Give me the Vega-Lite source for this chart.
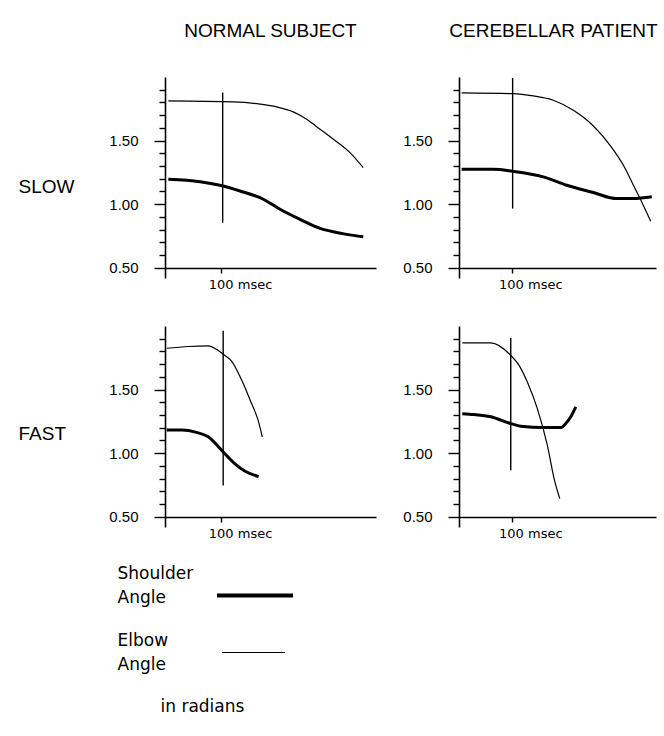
{
  "$schema": "https://vega.github.io/schema/vega-lite/v6.json",
  "padding": {"left": 18, "top": 22, "right": 0, "bottom": 5},
  "background": "white",
  "config": {
    "font": "Liberation Sans",
    "view": {"stroke": null},
    "axis": {"domainColor": "black", "tickColor": "black", "labelColor": "black", "titleColor": "black", "grid": false, "domainWidth": 1.6, "tickWidth": 1.4, "labelFont": "Liberation Sans", "titleFont": "Liberation Sans", "titleFontWeight": "normal"},
    "axisY": {"tickCount": 30, "tickSize": 6},
    "title": {"font": "Liberation Sans", "fontWeight": "normal", "fontSize": 19, "color": "black"}
  },
  "datasets": {
    "angles": [
      {"speed": "SLOW", "subject": "NORMAL", "angle": "Elbow", "t": 5.9, "v": 1.813},
      {"speed": "SLOW", "subject": "NORMAL", "angle": "Elbow", "t": 121.4, "v": 1.805},
      {"speed": "SLOW", "subject": "NORMAL", "angle": "Elbow", "t": 168.8, "v": 1.787},
      {"speed": "SLOW", "subject": "NORMAL", "angle": "Elbow", "t": 198.5, "v": 1.765},
      {"speed": "SLOW", "subject": "NORMAL", "angle": "Elbow", "t": 228, "v": 1.726},
      {"speed": "SLOW", "subject": "NORMAL", "angle": "Elbow", "t": 251.8, "v": 1.668},
      {"speed": "SLOW", "subject": "NORMAL", "angle": "Elbow", "t": 275.5, "v": 1.59},
      {"speed": "SLOW", "subject": "NORMAL", "angle": "Elbow", "t": 299.2, "v": 1.511},
      {"speed": "SLOW", "subject": "NORMAL", "angle": "Elbow", "t": 328.8, "v": 1.406},
      {"speed": "SLOW", "subject": "NORMAL", "angle": "Elbow", "t": 352.4, "v": 1.287},
      {"speed": "SLOW", "subject": "NORMAL", "angle": "Shoulder", "t": 5.9, "v": 1.196},
      {"speed": "SLOW", "subject": "NORMAL", "angle": "Shoulder", "t": 62.2, "v": 1.177},
      {"speed": "SLOW", "subject": "NORMAL", "angle": "Shoulder", "t": 97.7, "v": 1.149},
      {"speed": "SLOW", "subject": "NORMAL", "angle": "Shoulder", "t": 133.3, "v": 1.104},
      {"speed": "SLOW", "subject": "NORMAL", "angle": "Shoulder", "t": 174.7, "v": 1.039},
      {"speed": "SLOW", "subject": "NORMAL", "angle": "Shoulder", "t": 204.4, "v": 0.96},
      {"speed": "SLOW", "subject": "NORMAL", "angle": "Shoulder", "t": 239.9, "v": 0.881},
      {"speed": "SLOW", "subject": "NORMAL", "angle": "Shoulder", "t": 275.5, "v": 0.81},
      {"speed": "SLOW", "subject": "NORMAL", "angle": "Shoulder", "t": 299.2, "v": 0.783},
      {"speed": "SLOW", "subject": "NORMAL", "angle": "Shoulder", "t": 322.9, "v": 0.763},
      {"speed": "SLOW", "subject": "NORMAL", "angle": "Shoulder", "t": 352.4, "v": 0.744},
      {"speed": "SLOW", "subject": "CEREBELLAR", "angle": "Elbow", "t": 5, "v": 1.875},
      {"speed": "SLOW", "subject": "CEREBELLAR", "angle": "Elbow", "t": 102.1, "v": 1.869},
      {"speed": "SLOW", "subject": "CEREBELLAR", "angle": "Elbow", "t": 141.5, "v": 1.851},
      {"speed": "SLOW", "subject": "CEREBELLAR", "angle": "Elbow", "t": 179.6, "v": 1.817},
      {"speed": "SLOW", "subject": "CEREBELLAR", "angle": "Elbow", "t": 217.7, "v": 1.738},
      {"speed": "SLOW", "subject": "CEREBELLAR", "angle": "Elbow", "t": 255.8, "v": 1.615},
      {"speed": "SLOW", "subject": "CEREBELLAR", "angle": "Elbow", "t": 287.6, "v": 1.463},
      {"speed": "SLOW", "subject": "CEREBELLAR", "angle": "Elbow", "t": 313, "v": 1.306},
      {"speed": "SLOW", "subject": "CEREBELLAR", "angle": "Elbow", "t": 332, "v": 1.149},
      {"speed": "SLOW", "subject": "CEREBELLAR", "angle": "Elbow", "t": 347.8, "v": 1.018},
      {"speed": "SLOW", "subject": "CEREBELLAR", "angle": "Elbow", "t": 365, "v": 0.866},
      {"speed": "SLOW", "subject": "CEREBELLAR", "angle": "Shoulder", "t": 5, "v": 1.275},
      {"speed": "SLOW", "subject": "CEREBELLAR", "angle": "Shoulder", "t": 65.3, "v": 1.275},
      {"speed": "SLOW", "subject": "CEREBELLAR", "angle": "Shoulder", "t": 102.1, "v": 1.259},
      {"speed": "SLOW", "subject": "CEREBELLAR", "angle": "Shoulder", "t": 160.6, "v": 1.215},
      {"speed": "SLOW", "subject": "CEREBELLAR", "angle": "Shoulder", "t": 205, "v": 1.149},
      {"speed": "SLOW", "subject": "CEREBELLAR", "angle": "Shoulder", "t": 255.8, "v": 1.092},
      {"speed": "SLOW", "subject": "CEREBELLAR", "angle": "Shoulder", "t": 300.2, "v": 1.044},
      {"speed": "SLOW", "subject": "CEREBELLAR", "angle": "Shoulder", "t": 332, "v": 1.044},
      {"speed": "SLOW", "subject": "CEREBELLAR", "angle": "Shoulder", "t": 366.9, "v": 1.058},
      {"speed": "FAST", "subject": "NORMAL", "angle": "Elbow", "t": 3, "v": 1.825},
      {"speed": "FAST", "subject": "NORMAL", "angle": "Elbow", "t": 41.4, "v": 1.839},
      {"speed": "FAST", "subject": "NORMAL", "angle": "Elbow", "t": 76.8, "v": 1.844},
      {"speed": "FAST", "subject": "NORMAL", "angle": "Elbow", "t": 91.5, "v": 1.817},
      {"speed": "FAST", "subject": "NORMAL", "angle": "Elbow", "t": 103.4, "v": 1.778},
      {"speed": "FAST", "subject": "NORMAL", "angle": "Elbow", "t": 118, "v": 1.725},
      {"speed": "FAST", "subject": "NORMAL", "angle": "Elbow", "t": 135.8, "v": 1.579},
      {"speed": "FAST", "subject": "NORMAL", "angle": "Elbow", "t": 153.5, "v": 1.394},
      {"speed": "FAST", "subject": "NORMAL", "angle": "Elbow", "t": 165.3, "v": 1.262},
      {"speed": "FAST", "subject": "NORMAL", "angle": "Elbow", "t": 172.9, "v": 1.129},
      {"speed": "FAST", "subject": "NORMAL", "angle": "Shoulder", "t": 3, "v": 1.183},
      {"speed": "FAST", "subject": "NORMAL", "angle": "Shoulder", "t": 29.6, "v": 1.183},
      {"speed": "FAST", "subject": "NORMAL", "angle": "Shoulder", "t": 56.1, "v": 1.164},
      {"speed": "FAST", "subject": "NORMAL", "angle": "Shoulder", "t": 76.8, "v": 1.129},
      {"speed": "FAST", "subject": "NORMAL", "angle": "Shoulder", "t": 103.4, "v": 1.01},
      {"speed": "FAST", "subject": "NORMAL", "angle": "Shoulder", "t": 123.9, "v": 0.918},
      {"speed": "FAST", "subject": "NORMAL", "angle": "Shoulder", "t": 141.6, "v": 0.86},
      {"speed": "FAST", "subject": "NORMAL", "angle": "Shoulder", "t": 166.4, "v": 0.817},
      {"speed": "FAST", "subject": "CEREBELLAR", "angle": "Elbow", "t": 6.3, "v": 1.867},
      {"speed": "FAST", "subject": "CEREBELLAR", "angle": "Elbow", "t": 60.3, "v": 1.867},
      {"speed": "FAST", "subject": "CEREBELLAR", "angle": "Elbow", "t": 98.5, "v": 1.769},
      {"speed": "FAST", "subject": "CEREBELLAR", "angle": "Elbow", "t": 114.3, "v": 1.691},
      {"speed": "FAST", "subject": "CEREBELLAR", "angle": "Elbow", "t": 130.1, "v": 1.56},
      {"speed": "FAST", "subject": "CEREBELLAR", "angle": "Elbow", "t": 149.1, "v": 1.351},
      {"speed": "FAST", "subject": "CEREBELLAR", "angle": "Elbow", "t": 168.2, "v": 1.062},
      {"speed": "FAST", "subject": "CEREBELLAR", "angle": "Elbow", "t": 181, "v": 0.801},
      {"speed": "FAST", "subject": "CEREBELLAR", "angle": "Elbow", "t": 191.8, "v": 0.644},
      {"speed": "FAST", "subject": "CEREBELLAR", "angle": "Shoulder", "t": 6.3, "v": 1.311},
      {"speed": "FAST", "subject": "CEREBELLAR", "angle": "Shoulder", "t": 28.6, "v": 1.304},
      {"speed": "FAST", "subject": "CEREBELLAR", "angle": "Shoulder", "t": 60.3, "v": 1.286},
      {"speed": "FAST", "subject": "CEREBELLAR", "angle": "Shoulder", "t": 98.5, "v": 1.233},
      {"speed": "FAST", "subject": "CEREBELLAR", "angle": "Shoulder", "t": 117.5, "v": 1.212},
      {"speed": "FAST", "subject": "CEREBELLAR", "angle": "Shoulder", "t": 161.9, "v": 1.202},
      {"speed": "FAST", "subject": "CEREBELLAR", "angle": "Shoulder", "t": 193.7, "v": 1.202},
      {"speed": "FAST", "subject": "CEREBELLAR", "angle": "Shoulder", "t": 203.2, "v": 1.233},
      {"speed": "FAST", "subject": "CEREBELLAR", "angle": "Shoulder", "t": 212.8, "v": 1.286},
      {"speed": "FAST", "subject": "CEREBELLAR", "angle": "Shoulder", "t": 222.3, "v": 1.364}
    ],
    "markers": [
      {"speed": "SLOW", "subject": "NORMAL", "t": 102.5, "lo": 0.854, "hi": 1.878},
      {"speed": "SLOW", "subject": "CEREBELLAR", "t": 102.1, "lo": 0.966, "hi": 1.993},
      {"speed": "FAST", "subject": "NORMAL", "t": 103.4, "lo": 0.746, "hi": 1.963},
      {"speed": "FAST", "subject": "CEREBELLAR", "t": 98.5, "lo": 0.866, "hi": 1.906}
    ],
    "legend": [
      {"angle": "Shoulder Angle", "start": 0.406, "end": 1.0},
      {"angle": "Elbow Angle", "start": 0.445, "end": 0.938}
    ]
  },
  "vconcat": [
    {
      "spacing": 35,
      "vconcat": [
        {
          "spacing": 26,
          "hconcat": [
            {
              "width": 211, "height": 201,
              "title": {"text": "NORMAL SUBJECT", "offset": 36},
              "layer": [
                {
                  "data": {"name": "angles"},
                  "transform": [{"filter": "datum.speed == 'SLOW' && datum.subject == 'NORMAL' && datum.angle == 'Elbow'"}],
                  "mark": {"type": "line", "color": "black", "interpolate": "monotone", "strokeWidth": 1.2},
                  "encoding": {
                    "x": {"field": "t", "type": "quantitative", "scale": {"domain": [0, 375], "nice": false},
                      "axis": {"title": null, "values": [100], "labelExpr": "'100 msec'", "offset": -10, "tickSize": 5, "labelPadding": 5, "labelFont": "DejaVu Sans", "labelFontSize": 13, "labelAlign": "left", "labelOffset": -13, "labelFlush": false}},
                    "y": {"field": "v", "type": "quantitative", "scale": {"domain": [0.42, 2.0], "nice": false, "zero": false},
                      "axis": {"values": [0.5, 0.6, 0.7, 0.8, 0.9, 1.0, 1.1, 1.2, 1.3, 1.4, 1.5, 1.6, 1.7, 1.8, 1.9], "tickCount": 30, "labelExpr": "abs(datum.value * 2 - round(datum.value * 2)) < 0.001 ? format(datum.value, '.2f') : ''", "labelOverlap": false, "labelBound": false,
                        "tickSize": {"condition": {"test": "abs(datum.value * 2 - round(datum.value * 2)) < 0.001", "value": 11}, "value": 6},
                        "labelPadding": 16, "labelFontSize": 15,
                        "title": "SLOW", "titleAngle": 0, "titleX": -147, "titleY": 109, "titleAlign": "left", "titleBaseline": "middle", "titleFontSize": 19}}
                  }
                },
                {
                  "data": {"name": "angles"},
                  "transform": [{"filter": "datum.speed == 'SLOW' && datum.subject == 'NORMAL' && datum.angle == 'Shoulder'"}],
                  "mark": {"type": "line", "color": "black", "interpolate": "monotone", "strokeWidth": 3},
                  "encoding": {
                    "x": {"field": "t", "type": "quantitative"},
                    "y": {"field": "v", "type": "quantitative"}
                  }
                },
                {
                  "data": {"name": "markers"},
                  "transform": [{"filter": "datum.speed == 'SLOW' && datum.subject == 'NORMAL'"}],
                  "mark": {"type": "rule", "color": "black", "strokeWidth": 1.4},
                  "encoding": {
                    "x": {"field": "t", "type": "quantitative"},
                    "y": {"field": "lo", "type": "quantitative"},
                    "y2": {"field": "hi"}
                  }
                }
              ]
            },
            {
              "width": 197, "height": 201,
              "title": {"text": "CEREBELLAR PATIENT", "offset": 36, "dx": -4},
              "layer": [
                {
                  "data": {"name": "angles"},
                  "transform": [{"filter": "datum.speed == 'SLOW' && datum.subject == 'CEREBELLAR' && datum.angle == 'Elbow'"}],
                  "mark": {"type": "line", "color": "black", "interpolate": "monotone", "strokeWidth": 1.2},
                  "encoding": {
                    "x": {"field": "t", "type": "quantitative", "scale": {"domain": [0, 375], "nice": false},
                      "axis": {"title": null, "values": [100], "labelExpr": "'100 msec'", "offset": -10, "tickSize": 5, "labelPadding": 5, "labelFont": "DejaVu Sans", "labelFontSize": 13, "labelAlign": "left", "labelOffset": -13, "labelFlush": false}},
                    "y": {"field": "v", "type": "quantitative", "scale": {"domain": [0.42, 2.0], "nice": false, "zero": false},
                      "axis": {"values": [0.5, 0.6, 0.7, 0.8, 0.9, 1.0, 1.1, 1.2, 1.3, 1.4, 1.5, 1.6, 1.7, 1.8, 1.9], "tickCount": 30, "labelExpr": "abs(datum.value * 2 - round(datum.value * 2)) < 0.001 ? format(datum.value, '.2f') : ''", "labelOverlap": false, "labelBound": false,
                        "tickSize": {"condition": {"test": "abs(datum.value * 2 - round(datum.value * 2)) < 0.001", "value": 11}, "value": 6},
                        "labelPadding": 16, "labelFontSize": 15, "title": null}}
                  }
                },
                {
                  "data": {"name": "angles"},
                  "transform": [{"filter": "datum.speed == 'SLOW' && datum.subject == 'CEREBELLAR' && datum.angle == 'Shoulder'"}],
                  "mark": {"type": "line", "color": "black", "interpolate": "monotone", "strokeWidth": 3},
                  "encoding": {
                    "x": {"field": "t", "type": "quantitative"},
                    "y": {"field": "v", "type": "quantitative"}
                  }
                },
                {
                  "data": {"name": "markers"},
                  "transform": [{"filter": "datum.speed == 'SLOW' && datum.subject == 'CEREBELLAR'"}],
                  "mark": {"type": "rule", "color": "black", "strokeWidth": 1.4},
                  "encoding": {
                    "x": {"field": "t", "type": "quantitative"},
                    "y": {"field": "lo", "type": "quantitative"},
                    "y2": {"field": "hi"}
                  }
                }
              ]
            }
          ]
        },
        {
          "spacing": 26,
          "hconcat": [
            {
              "width": 211, "height": 201,
              "layer": [
                {
                  "data": {"name": "angles"},
                  "transform": [{"filter": "datum.speed == 'FAST' && datum.subject == 'NORMAL' && datum.angle == 'Elbow'"}],
                  "mark": {"type": "line", "color": "black", "interpolate": "monotone", "strokeWidth": 1.2},
                  "encoding": {
                    "x": {"field": "t", "type": "quantitative", "scale": {"domain": [0, 375], "nice": false},
                      "axis": {"title": null, "values": [100], "labelExpr": "'100 msec'", "offset": -10, "tickSize": 5, "labelPadding": 5, "labelFont": "DejaVu Sans", "labelFontSize": 13, "labelAlign": "left", "labelOffset": -13, "labelFlush": false}},
                    "y": {"field": "v", "type": "quantitative", "scale": {"domain": [0.42, 2.0], "nice": false, "zero": false},
                      "axis": {"values": [0.5, 0.6, 0.7, 0.8, 0.9, 1.0, 1.1, 1.2, 1.3, 1.4, 1.5, 1.6, 1.7, 1.8, 1.9], "tickCount": 30, "labelExpr": "abs(datum.value * 2 - round(datum.value * 2)) < 0.001 ? format(datum.value, '.2f') : ''", "labelOverlap": false, "labelBound": false,
                        "tickSize": {"condition": {"test": "abs(datum.value * 2 - round(datum.value * 2)) < 0.001", "value": 11}, "value": 6},
                        "labelPadding": 16, "labelFontSize": 15,
                        "title": "FAST", "titleAngle": 0, "titleX": -147, "titleY": 107, "titleAlign": "left", "titleBaseline": "middle", "titleFontSize": 19}}
                  }
                },
                {
                  "data": {"name": "angles"},
                  "transform": [{"filter": "datum.speed == 'FAST' && datum.subject == 'NORMAL' && datum.angle == 'Shoulder'"}],
                  "mark": {"type": "line", "color": "black", "interpolate": "monotone", "strokeWidth": 3},
                  "encoding": {
                    "x": {"field": "t", "type": "quantitative"},
                    "y": {"field": "v", "type": "quantitative"}
                  }
                },
                {
                  "data": {"name": "markers"},
                  "transform": [{"filter": "datum.speed == 'FAST' && datum.subject == 'NORMAL'"}],
                  "mark": {"type": "rule", "color": "black", "strokeWidth": 1.4},
                  "encoding": {
                    "x": {"field": "t", "type": "quantitative"},
                    "y": {"field": "lo", "type": "quantitative"},
                    "y2": {"field": "hi"}
                  }
                }
              ]
            },
            {
              "width": 197, "height": 201,
              "layer": [
                {
                  "data": {"name": "angles"},
                  "transform": [{"filter": "datum.speed == 'FAST' && datum.subject == 'CEREBELLAR' && datum.angle == 'Elbow'"}],
                  "mark": {"type": "line", "color": "black", "interpolate": "monotone", "strokeWidth": 1.2},
                  "encoding": {
                    "x": {"field": "t", "type": "quantitative", "scale": {"domain": [0, 375], "nice": false},
                      "axis": {"title": null, "values": [100], "labelExpr": "'100 msec'", "offset": -10, "tickSize": 5, "labelPadding": 5, "labelFont": "DejaVu Sans", "labelFontSize": 13, "labelAlign": "left", "labelOffset": -13, "labelFlush": false}},
                    "y": {"field": "v", "type": "quantitative", "scale": {"domain": [0.42, 2.0], "nice": false, "zero": false},
                      "axis": {"values": [0.5, 0.6, 0.7, 0.8, 0.9, 1.0, 1.1, 1.2, 1.3, 1.4, 1.5, 1.6, 1.7, 1.8, 1.9], "tickCount": 30, "labelExpr": "abs(datum.value * 2 - round(datum.value * 2)) < 0.001 ? format(datum.value, '.2f') : ''", "labelOverlap": false, "labelBound": false,
                        "tickSize": {"condition": {"test": "abs(datum.value * 2 - round(datum.value * 2)) < 0.001", "value": 11}, "value": 6},
                        "labelPadding": 16, "labelFontSize": 15, "title": null}}
                  }
                },
                {
                  "data": {"name": "angles"},
                  "transform": [{"filter": "datum.speed == 'FAST' && datum.subject == 'CEREBELLAR' && datum.angle == 'Shoulder'"}],
                  "mark": {"type": "line", "color": "black", "interpolate": "monotone", "strokeWidth": 3},
                  "encoding": {
                    "x": {"field": "t", "type": "quantitative"},
                    "y": {"field": "v", "type": "quantitative"}
                  }
                },
                {
                  "data": {"name": "markers"},
                  "transform": [{"filter": "datum.speed == 'FAST' && datum.subject == 'CEREBELLAR'"}],
                  "mark": {"type": "rule", "color": "black", "strokeWidth": 1.4},
                  "encoding": {
                    "x": {"field": "t", "type": "quantitative"},
                    "y": {"field": "lo", "type": "quantitative"},
                    "y2": {"field": "hi"}
                  }
                }
              ]
            }
          ]
        }
      ]
    },
    {
      "width": 128, "height": 114,
      "data": {"name": "legend"},
      "layer": [
        {
          "transform": [{"filter": "datum.angle == 'Shoulder Angle'"}],
          "mark": {"type": "rule", "color": "black", "strokeWidth": 4},
          "encoding": {
            "y": {"field": "angle", "type": "nominal", "sort": ["Shoulder Angle", "Elbow Angle"], "scale": {"type": "point", "padding": 0.5, "domain": ["Shoulder Angle", "Elbow Angle"]},
              "axis": {"title": null, "domain": false, "ticks": false, "tickSize": 0, "labelPadding": 48, "labelAlign": "left", "labelFont": "DejaVu Sans", "labelFontSize": 17, "labelLineHeight": 24, "labelExpr": "split(datum.label, ' ')",
                "labelOffset": {"condition": {"test": "datum.value == 'Shoulder Angle'", "value": -22}, "value": -12}}},
            "x": {"field": "start", "type": "quantitative", "scale": {"domain": [0, 1], "nice": false},
              "axis": {"title": "in radians", "labels": false, "ticks": false, "domain": false, "titleX": -5, "titleY": 25.5, "titleAlign": "left", "titleBaseline": "middle", "titleFont": "DejaVu Sans", "titleFontSize": 17}},
            "x2": {"field": "end"}
          }
        },
        {
          "transform": [{"filter": "datum.angle == 'Elbow Angle'"}],
          "mark": {"type": "rule", "color": "black", "strokeWidth": 1.2},
          "encoding": {
            "y": {"field": "angle", "type": "nominal"},
            "x": {"field": "start", "type": "quantitative"},
            "x2": {"field": "end"}
          }
        }
      ]
    }
  ],
  "spacing": 24
}
